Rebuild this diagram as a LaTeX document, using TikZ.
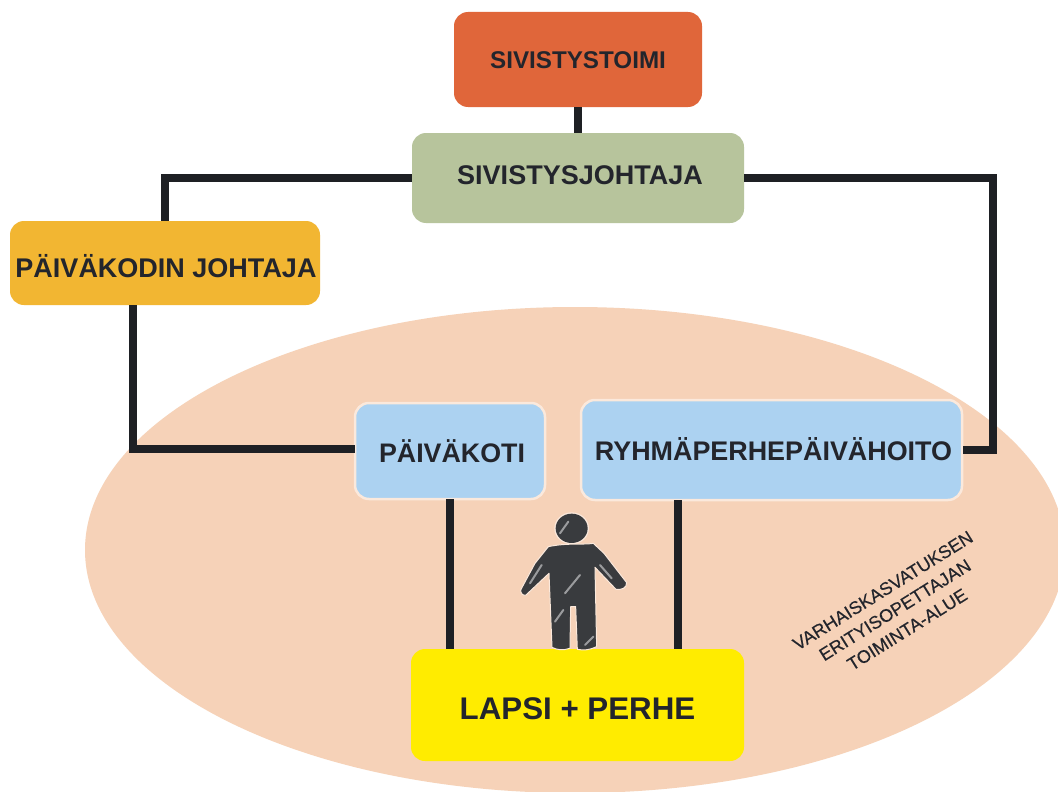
\documentclass[tikz,border=0pt]{standalone}
\usepackage{fontspec}
\setmainfont{Liberation Sans}
\definecolor{ellc}{HTML}{F6D2B8}
\definecolor{linec}{HTML}{1E2024}
\definecolor{txtc}{HTML}{23252C}
\definecolor{bluec}{HTML}{ACD2F1}
\definecolor{halo}{HTML}{FBE9DC}
\newcommand{\shifted}[2]{\raisebox{#1}[0pt][0pt]{#2}}
\begin{document}
\begin{tikzpicture}[x=1pt,y=-1pt,
  box/.style={rounded corners=14pt,minimum height=#1,anchor=center,text=txtc,font=\bfseries,inner sep=0pt},
  link/.style={draw=linec,line width=8.5pt,line cap=butt,line join=miter},
  bluebox/.style={fill=bluec,draw=halo,line width=2.5pt}]
\useasboundingbox (0,0) rectangle (1058,792);
\fill[white] (0,0) rectangle (1058,792);
\begin{scope}
\clip (0,0) rectangle (1058,792);
\fill[ellc] (575,550) ellipse [x radius=490, y radius=243];
\end{scope}
% nodes
\node[box=95pt,minimum width=248pt,fill={rgb,255:red,224;green,102;blue,58}] (st) at (578,59.5) {\shifted{-9.2pt}{\fontsize{24.2}{28}\selectfont SIVISTYSTOIMI}};
\node[box=90pt,minimum width=332pt,fill={rgb,255:red,183;green,196;blue,156}] (sj) at (578,178) {\hspace*{4pt}\shifted{-6.7pt}{\fontsize{27}{32}\selectfont SIVISTYSJOHTAJA}};
\node[box=84pt,minimum width=310pt,fill={rgb,255:red,242;green,182;blue,50}] (pj) at (165,263) {\hspace*{2pt}\shifted{-14.7pt}{\fontsize{27}{32}\selectfont PÄIVÄKODIN JOHTAJA}};
\node[box=96pt,minimum width=190pt,bluebox] (pk) at (450,451) {\hspace*{4pt}\shifted{-11.6pt}{\fontsize{26.8}{32}\selectfont PÄIVÄKOTI}};
\node[box=100pt,minimum width=381pt,bluebox] (rp) at (771.5,450) {\hspace*{4pt}\shifted{-10.7pt}{\fontsize{26.9}{32}\selectfont RYHMÄPERHEPÄIVÄHOITO}};
\node[box=112pt,minimum width=333pt,fill={rgb,255:red,255;green,236;blue,0}] (lp) at (577.5,705) {\shifted{-14.2pt}{\fontsize{31.3}{36}\selectfont LAPSI + PERHE}};
\node[rotate=32,align=center,text=txtc,font={\addfontfeature{FakeBold=0.4}\fontsize{18}{23}\selectfont},inner sep=0pt] (ea) at (895,610) {VARHAISKASVATUKSEN\\ERITYISOPETTAJAN\\TOIMINTA-ALUE};
% connector helpers
\coordinate (pjd) at (133,305);
\coordinate (pkl) at (355,449);
\coordinate (pkd) at (450,499);
\coordinate (lpa) at (450,649);
\coordinate (rpd) at (678,500);
\coordinate (lpb) at (678,649);
\coordinate (rr) at (993,178);
% connectors
\draw[link] (st.south) -- (sj.north);
\draw[link] (sj.west) -| (pj.north);
\draw[link] (sj.east) -- (rr) |- (rp.east);
\draw[link] (pjd) |- (pkl);
\draw[link] (pkd) -- (lpa);
\draw[link] (rpd) -- (lpb);
% person
\begin{scope}[shift={(480,490)},x=0.3333pt,y=-0.3333pt]
\fill[halo] (275,115) ellipse [x radius=52, y radius=48];
\fill[linec!88!white] (275,115) ellipse [x radius=48, y radius=44];
\path[fill=linec!88!white,draw=halo,line width=1pt,line join=round]
 (205,170) .. controls (260,158) and (310,165) .. (340,160)
 -- (372,190) -- (440,278) .. controls (440,295) and (425,300) .. (408,298)
 -- (345,232) -- (350,470) .. controls (330,480) and (310,482) .. (292,478)
 -- (287,350) -- (272,350) -- (270,475) .. controls (250,482) and (230,480) .. (216,472)
 -- (207,250) -- (138,315) .. controls (128,318) and (122,310) .. (122,300)
 -- (165,220) -- cycle;
\draw[white!55!linec,line width=2pt,line cap=round] (225,395) -- (250,360) (255,310) -- (300,255) (315,465) -- (340,440) (360,225) -- (395,265) (240,130) -- (265,95) (150,280) -- (185,225);
\end{scope}
\end{tikzpicture}
\end{document}
